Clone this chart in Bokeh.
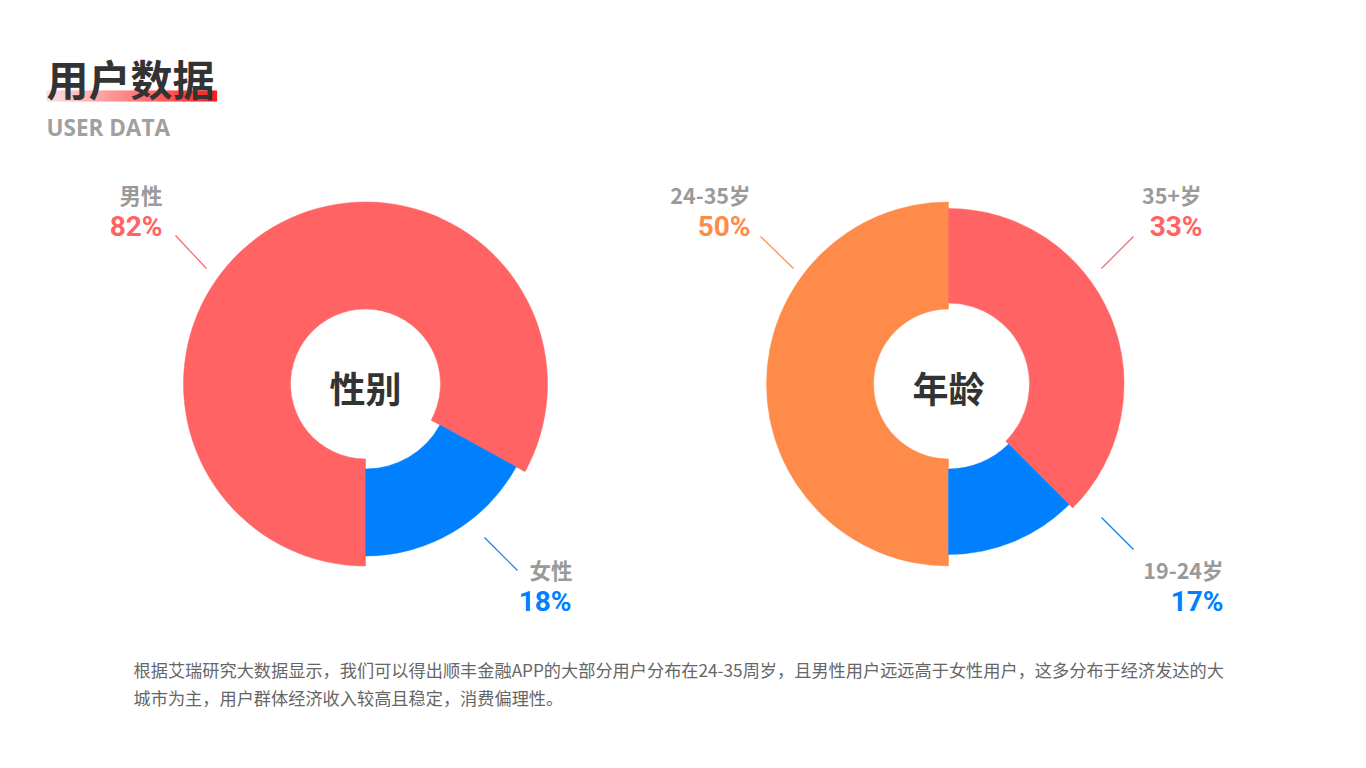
import numpy as np
from bokeh.plotting import figure
from bokeh.models import Range1d, ColumnDataSource
from bokeh.core.properties import value
from bokeh.embed import file_html
from bokeh.resources import INLINE

W, H = 1366, 768

# ---------------- data ----------------
title = "用户数据"
subtitle = "USER DATA"

gender_title = "性别"
gender_names = ["男性", "女性"]
gender_labels = ["82%", "18%"]
gender_share = [83.0, 17.0]          # slice sizes as drawn
gender_colors = ["#FF6363", "#0080FF"]

age_title = "年龄"
age_names = ["24-35岁", "35+岁", "19-24岁"]
age_labels = ["50%", "33%", "17%"]
age_share = [50.0, 37.5, 12.5]       # slice sizes as drawn
age_colors = ["#FF8B4B", "#FF6363", "#0080FF"]

paragraph = [
    "根据艾瑞研究大数据显示，我们可以得出顺丰金融APP的大部分用户分布在24-35周岁，且男性用户远远高于女性用户，这多分布于经济发达的大",
    "城市为主，用户群体经济收入较高且稳定，消费偏理性。",
]

# ---------------- layout ----------------
def sy(y):
    return H - y

p = figure(width=W, height=H, x_range=Range1d(0, W), y_range=Range1d(0, H),
           output_backend="svg", toolbar_location=None,
           x_axis_type=None, y_axis_type=None, min_border=0)
p.outline_line_color = None
p.background_fill_color = "white"
p.border_fill_color = "white"
p.xgrid.visible = False
p.ygrid.visible = False

CJK = value("Noto Sans CJK SC")

# title underline gradient bar
n = 60
x0, x1 = 46, 216
xs = np.linspace(x0, x1, n + 1)
cols = []
for i in range(n):
    t = i / (n - 1)
    g = int(round(222 - t * (222 - 30)))
    cols.append("#%02x%02x%02x" % (255, g, g))
p.quad(left=xs[:-1], right=xs[1:] + 0.6, bottom=sy(101), top=sy(90),
       fill_color=cols, line_color=None)

p.text(x=[46], y=[sy(77)], text=[title], text_font=CJK, text_font_style="bold",
       text_font_size="42px", text_color="#333333", text_baseline="middle",
       text_align="left")
p.text(x=[46], y=[sy(127)], text=[subtitle], text_font=value("Open Sans"),
       text_font_style="bold", text_font_size="22.5px", text_color="#A0A0A0",
       text_baseline="middle", text_align="left")


def donut(cx, cy, shares, colors, inner, outer):
    fr = np.array(shares, dtype=float)
    fr = fr / fr.sum()
    cum = np.concatenate([[0.0], np.cumsum(fr)])
    a_start = -np.pi / 2 - cum[:-1] * 2 * np.pi
    a_end = -np.pi / 2 - cum[1:] * 2 * np.pi
    src = ColumnDataSource(dict(x=[cx] * len(fr), y=[sy(cy)] * len(fr),
                                s=list(a_end), e=list(a_start),
                                ir=inner, orr=outer, c=colors))
    p.annular_wedge(x="x", y="y", inner_radius="ir", outer_radius="orr",
                    start_angle="s", end_angle="e", direction="anticlock",
                    fill_color="c", line_color="c", line_width=0.5, source=src)


# gender donut
gcx, gcy = 365, 383.5
donut(gcx, gcy, gender_share, gender_colors, [75, 85], [182, 172])
p.text(x=[gcx], y=[sy(386)], text=[gender_title], text_font=CJK,
       text_font_style="bold", text_font_size="36px", text_color="#333333",
       text_align="center", text_baseline="middle")

# age donut
acx, acy = 948, 383.5
donut(acx, acy, age_share, age_colors, [75, 81, 85], [182, 175.5, 170.5])
p.text(x=[acx], y=[sy(386)], text=[age_title], text_font=CJK,
       text_font_style="bold", text_font_size="36px", text_color="#333333",
       text_align="center", text_baseline="middle")

# labels
name_pos = [(162, 194), (572, 569), (750, 194), (1201, 194), (1223, 569)]
pct_pos = [(162, 226), (571, 601), (750, 226), (1202, 226), (1223, 601)]
names = gender_names + age_names
pcts = gender_labels + age_labels
pct_cols = [gender_colors[0], gender_colors[1], age_colors[0], age_colors[1], age_colors[2]]

p.text(x=[q[0] for q in name_pos], y=[sy(q[1]) for q in name_pos], text=names,
       text_font=CJK, text_font_style="bold", text_font_size="21.5px",
       text_color="#9A9A9A", text_align="right", text_baseline="middle")
p.text(x=[q[0] for q in pct_pos], y=[sy(q[1]) for q in pct_pos], text=pcts,
       text_font=value("Roboto"), text_font_style="bold", text_font_size="28px",
       text_color=pct_cols, text_align="right", text_baseline="middle")

# leader lines
seg = [((175, 235), (206, 268)), ((484, 537), (517, 570)),
       ((760, 236), (793, 268)), ((1133, 236), (1101, 268)),
       ((1101, 517), (1133, 549))]
p.segment(x0=[s[0][0] for s in seg], y0=[sy(s[0][1]) for s in seg],
          x1=[s[1][0] for s in seg], y1=[sy(s[1][1]) for s in seg],
          line_color=pct_cols, line_width=1.2)

# paragraph
p.text(x=[133, 133], y=[sy(669), sy(697)], text=paragraph, text_font=CJK,
       text_font_size="17.2px", text_color="#666666", text_align="left",
       text_baseline="middle")

open("out.html", "w").write(file_html(p, INLINE))
